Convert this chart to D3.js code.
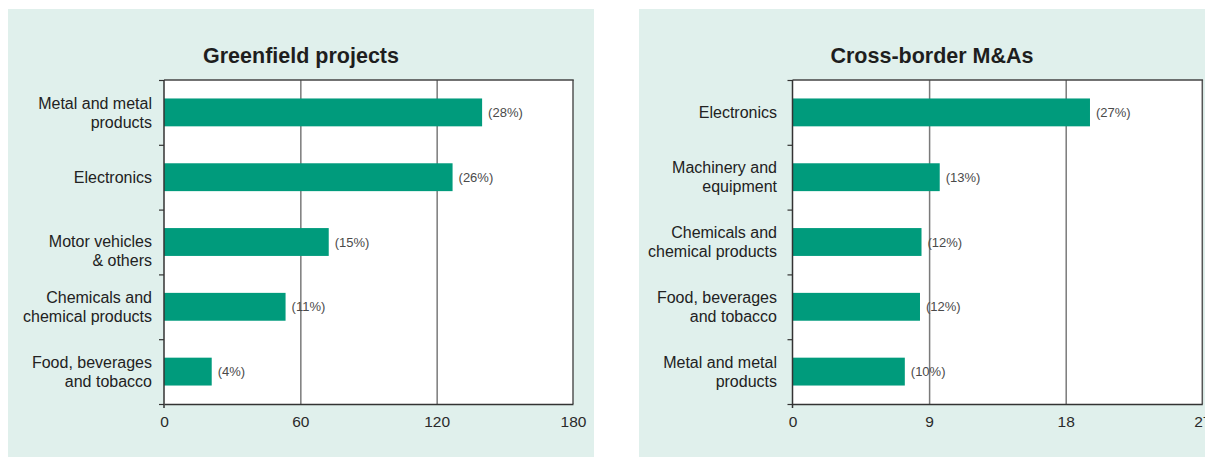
<!DOCTYPE html>
<html>
<head>
<meta charset="utf-8">
<script src="https://cdn.jsdelivr.net/npm/d3@7"></script>
<style>
  html, body { margin: 0; padding: 0; background: #ffffff; }
  svg { display: block; font-family: "Liberation Sans", Arial, Helvetica, sans-serif; }
</style>
</head>
<body>
<svg id="chart" width="1205" height="457"></svg>
<script>
// ---- Data ----
const greenfieldTitle = "Greenfield projects";
const greenfieldCategories = [
  "Metal and metal\nproducts",
  "Electronics",
  "Motor vehicles\n& others",
  "Chemicals and\nchemical products",
  "Food, beverages\nand tobacco"
];
const greenfieldValues = [140, 127, 72.5, 53.5, 21];
const greenfieldShares = ["(28%)", "(26%)", "(15%)", "(11%)", "(4%)"];
const greenfieldTicks = [0, 60, 120, 180];

const maTitle = "Cross-border M&As";
const maCategories = [
  "Electronics",
  "Machinery and\nequipment",
  "Chemicals and\nchemical products",
  "Food, beverages\nand tobacco",
  "Metal and metal\nproducts"
];
const maValues = [19.6, 9.7, 8.5, 8.4, 7.4];
const maShares = ["(27%)", "(13%)", "(12%)", "(12%)", "(10%)"];
const maTicks = [0, 9, 18, 27];

// ---- Styles ----
const BAR = "#009b7c";
const PANEL_BG = "#e0f0ec";
const GRID = "#7a7a7a";
const AXIS = "#333333";

const svg = d3.select("#chart");

function drawPanel(cfg) {
  const g = svg.append("g");
  g.append("rect")
    .attr("x", cfg.panelX).attr("y", 9)
    .attr("width", 586).attr("height", 460)
    .attr("fill", PANEL_BG);

  const top = 80, bottom = 404;
  const left = cfg.plotLeft, right = cfg.plotRight;

  g.append("text")
    .attr("x", cfg.panelX + 293).attr("y", 62.5)
    .attr("text-anchor", "middle")
    .attr("font-size", "21.5px").attr("font-weight", "bold")
    .attr("fill", "#1e1e1e")
    .text(cfg.title);

  g.append("rect")
    .attr("x", left).attr("y", top)
    .attr("width", right - left).attr("height", bottom - top)
    .attr("fill", "#ffffff");

  const x = d3.scaleLinear().domain([cfg.ticks[0], cfg.ticks[cfg.ticks.length - 1]]).range([left, right]);
  const y = d3.scaleBand().domain(cfg.categories).range([top, bottom])
    .paddingInner(0.57).paddingOuter(0.285);

  const grid = g.append("g").attr("transform", `translate(0,${bottom})`)
    .call(d3.axisBottom(x).tickValues(cfg.ticks.slice(1, -1)).tickSize(-(bottom - top)).tickFormat(""));
  grid.select(".domain").remove();
  grid.selectAll(".tick line").attr("stroke", GRID).attr("stroke-width", 1.5);

  g.append("line").attr("x1", right).attr("x2", right).attr("y1", top).attr("y2", bottom)
    .attr("stroke", "#555").attr("stroke-width", 1.5);
  g.append("line").attr("x1", left).attr("x2", right + 0.75).attr("y1", top).attr("y2", top)
    .attr("stroke", "#444").attr("stroke-width", 1.5);

  g.selectAll("rect.bar").data(cfg.values).enter().append("rect")
    .attr("class", "bar")
    .attr("x", x(0))
    .attr("y", (d, i) => y(cfg.categories[i]))
    .attr("width", d => x(d) - x(0))
    .attr("height", y.bandwidth())
    .attr("fill", BAR);

  g.selectAll("text.share").data(cfg.values).enter().append("text")
    .attr("class", "share")
    .attr("x", d => x(d) + 6)
    .attr("y", (d, i) => y(cfg.categories[i]) + y.bandwidth() / 2)
    .attr("dy", "0.35em")
    .attr("font-size", "13px")
    .attr("fill", "#4a4a4a")
    .text((d, i) => cfg.shares[i]);

  const xa = g.append("g").attr("transform", `translate(0,${bottom})`)
    .call(d3.axisBottom(x).tickValues(cfg.ticks).tickSize(0).tickPadding(12).tickFormat(d3.format("d")));
  xa.select(".domain").attr("stroke", AXIS).attr("stroke-width", 1.5);
  xa.selectAll("text").attr("font-size", "15.5px").attr("fill", "#2a2a2a")
    .attr("font-family", "'Liberation Sans', Arial, sans-serif");

  const yb = d3.scaleLinear().domain([0, cfg.categories.length]).range([top, bottom]);
  const ya = g.append("g").attr("transform", `translate(${left},0)`)
    .call(d3.axisLeft(yb).ticks(cfg.categories.length).tickSize(5).tickFormat(""));
  ya.select(".domain").remove();
  ya.selectAll(".tick line").attr("stroke", AXIS).attr("stroke-width", 1.2);
  g.append("line").attr("x1", left).attr("x2", left).attr("y1", top).attr("y2", bottom + 4)
    .attr("stroke", AXIS).attr("stroke-width", 1.5);

  const lineH = 19;
  cfg.categories.forEach((c, i) => {
    const lines = c.split("\n");
    const cy = y(c) + y.bandwidth() / 2 + (cfg.shift[c] || 0);
    const t = g.append("text")
      .attr("text-anchor", "end")
      .attr("font-size", "16px")
      .attr("fill", "#222");
    lines.forEach((ln, j) => {
      t.append("tspan")
        .attr("x", left - cfg.labelGap)
        .attr("y", cy + (j - (lines.length - 1) / 2) * lineH)
        .attr("dy", "0.36em")
        .text(ln);
    });
  });
}

drawPanel({
  panelX: 8, plotLeft: 164, plotRight: 573,
  title: greenfieldTitle, categories: greenfieldCategories, values: greenfieldValues,
  shares: greenfieldShares, ticks: greenfieldTicks, labelGap: 12,
  shift: { "Motor vehicles\n& others": 9 }
});

drawPanel({
  panelX: 639, plotLeft: 792.5, plotRight: 1202.3,
  title: maTitle, categories: maCategories, values: maValues,
  shares: maShares, ticks: maTicks, labelGap: 15.5,
  shift: {}
});
</script>
</body>
</html>
